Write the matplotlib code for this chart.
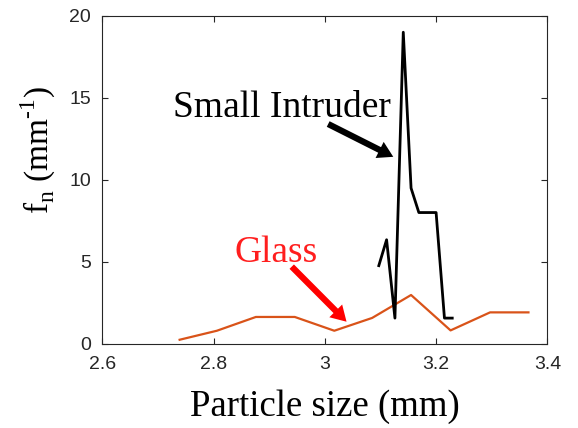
import numpy as np
import matplotlib
matplotlib.use("Agg")
import matplotlib.pyplot as plt

# glass particles (orange curve)
glass_size = [2.739, 2.806, 2.876, 2.946, 3.017, 3.085, 3.155, 3.226, 3.297, 3.366]
glass_fn = [0.24, 0.79, 1.63, 1.63, 0.79, 1.57, 2.97, 0.81, 1.91, 1.91]

# small intruder (black curve)
intr_size = [3.097, 3.111, 3.126, 3.141, 3.155, 3.169, 3.200, 3.215, 3.229]
intr_fn = [4.76, 6.34, 1.56, 19.0, 9.49, 8.0, 8.0, 1.56, 1.56]

xticks = [2.6, 2.8, 3.0, 3.2, 3.4]
xtick_labels = ['2.6', '2.8', '3', '3.2', '3.4']
yticks = [0, 5, 10, 15, 20]

grey = '#262626'
serif = ['Liberation Serif', 'DejaVu Serif']

fig = plt.figure(figsize=(5.78, 4.28), dpi=100)
ax = fig.add_axes([0.177, 0.197, 0.770, 0.766])

ax.plot(glass_size, glass_fn, color='#D95319', lw=1.6)
ax.plot(intr_size, intr_fn, color='black', lw=2.0)

ax.set_xlim(2.6, 3.4)
ax.set_ylim(0, 20)
ax.set_xticks(xticks)
ax.set_xticklabels(xtick_labels)
ax.set_yticks(yticks)
ax.tick_params(direction='in', length=4, width=0.8, colors=grey, labelsize=14,
               top=True, right=True)
ax.tick_params(axis='x', pad=9)
ax.tick_params(axis='y', pad=8)
for tl in ax.get_xticklabels() + ax.get_yticklabels():
    tl.set_family(['Liberation Sans', 'DejaVu Sans'])
for sp in ax.spines.values():
    sp.set_color(grey)
    sp.set_linewidth(0.8)

ax.set_xlabel('Particle size (mm)', family=serif, fontsize=26.5, color='black', labelpad=12)
ax.set_ylabel('f$_\\mathregular{n}$ (mm$^\\mathregular{\u20101}$)', family=serif, fontsize=24, color='black')
ax.yaxis.set_label_coords(-0.1, 0.589)

ax.text(2.922, 13.84, 'Small Intruder', family=serif, fontsize=27, ha='center', va='baseline')
ax.annotate('', xy=(3.123, 11.4), xytext=(3.006, 13.4),
            arrowprops=dict(arrowstyle='simple,head_length=1.1,head_width=1.3,tail_width=0.45',
                            color='black', lw=0, shrinkA=0, shrinkB=0))

ax.text(2.912, 5.0, 'Glass', family=serif, fontsize=27, color='#FF1E1E', ha='center', va='baseline')
ax.annotate('', xy=(3.039, 1.34), xytext=(2.9405, 4.7),
            arrowprops=dict(arrowstyle='simple,head_length=1.1,head_width=1.3,tail_width=0.45',
                            color='#FF0000', lw=0, shrinkA=0, shrinkB=0))

fig.savefig('out.png', dpi=100)
